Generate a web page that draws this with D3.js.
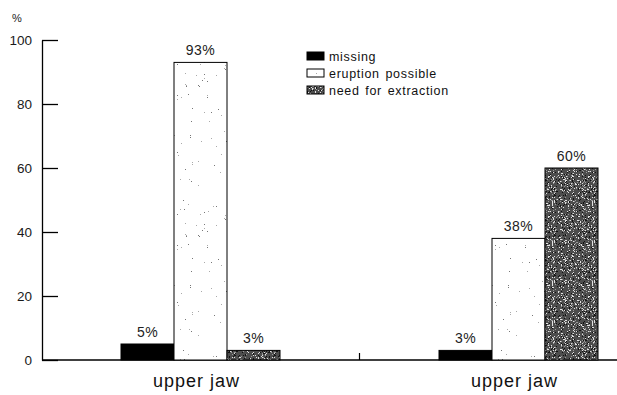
<!DOCTYPE html>
<html>
<head>
<meta charset="utf-8">
<script src="https://cdn.jsdelivr.net/npm/d3@7"></script>
<style>
  html, body { margin: 0; padding: 0; background: #fff; }
  svg { display: block; font-family: "Liberation Sans", Arial, sans-serif; }
</style>
</head>
<body>
<svg id="chart" width="617" height="395"></svg>
<script>
// ---- data ----
const groups = ["upper jaw (1)", "upper jaw (2)"];
const groupLabels = ["upper jaw", "upper jaw"];
const seriesNames = ["missing", "eruption possible", "need for extraction"];
const missing = [5, 3];
const eruptionPossible = [93, 38];
const needForExtraction = [3, 60];
const yTicks = [0, 20, 40, 60, 80, 100];
const seriesValues = [missing, eruptionPossible, needForExtraction];

const svg = d3.select("#chart");
const defs = svg.append("defs");

// deterministic hash for texture dots
function hash(i, s) {
  let x = Math.sin(i * 12.9898 + s * 78.233) * 43758.5453;
  return x - Math.floor(x);
}
// sparse stipple (eruption possible)
const p1 = defs.append("pattern").attr("id", "stipple").attr("patternUnits", "userSpaceOnUse")
  .attr("width", 53).attr("height", 150).attr("x", 0).attr("y", 0);
p1.append("rect").attr("width", 53).attr("height", 150).attr("fill", "#fff");
for (let i = 0; i < 60; i++) {
  p1.append("rect").attr("x", Math.floor(hash(i, 1) * 53)).attr("y", Math.floor(hash(i, 2) * 150))
    .attr("width", 1).attr("height", 1).attr("fill", hash(i, 3) > 0.5 ? "#777" : "#aaa");
}
// dense dark stipple (need for extraction)
const p2 = defs.append("pattern").attr("id", "dense").attr("patternUnits", "userSpaceOnUse")
  .attr("width", 40).attr("height", 40);
p2.append("rect").attr("width", 40).attr("height", 40).attr("fill", "#4d4d4d");
for (let i = 0; i < 480; i++) {
  const h = hash(i, 5);
  p2.append("rect").attr("x", Math.floor(hash(i, 6) * 40)).attr("y", Math.floor(hash(i, 7) * 40))
    .attr("width", 1).attr("height", 1)
    .attr("fill", h > 0.6 ? "#e0e0e0" : (h > 0.25 ? "#111" : "#999"));
}
const fills = ["#000", "url(#stipple)", "url(#dense)"];

// ---- scales ----
const x0 = d3.scaleBand().domain(groups).range([41.5, 677.5]);
const x1 = d3.scaleBand().domain(seriesNames).range([-79.5, 79.5]);
const y = d3.scaleLinear().domain([0, 100]).range([360, 40]);

// ---- axes ----
const yAxis = d3.axisLeft(y).tickValues(yTicks).tickSizeInner(-16).tickSizeOuter(0).tickPadding(10);
const gy = svg.append("g").attr("transform", "translate(42,0)").call(yAxis);
gy.select(".domain").attr("stroke", "#000").attr("stroke-width", 1.3);
gy.selectAll(".tick line").attr("stroke", "#000").attr("stroke-width", 1.3);
gy.selectAll(".tick text").attr("font-size", 13.5).attr("fill", "#1a1a1a")
  .attr("font-family", "Liberation Sans, Arial, sans-serif");

svg.append("text").attr("x", 17).attr("y", 22).attr("text-anchor", "middle")
  .attr("font-size", 11).attr("fill", "#1a1a1a").text("%");

// x axis line
svg.append("line").attr("x1", 42).attr("x2", 617).attr("y1", y(0)).attr("y2", y(0))
  .attr("stroke", "#000").attr("stroke-width", 1.3);
// middle separator tick
const midX = x0(groups[0]) + x0.bandwidth();
svg.append("line").attr("x1", midX).attr("x2", midX)
  .attr("y1", y(0) - 7).attr("y2", y(0)).attr("stroke", "#000").attr("stroke-width", 1.2);

// ---- bars ----
groups.forEach((g, gi) => {
  const cx = x0(g) + x0.bandwidth() / 2;
  seriesNames.forEach((s, si) => {
    const v = seriesValues[si][gi];
    const bx = cx + x1(s);
    svg.append("rect").attr("x", bx).attr("y", y(v)).attr("width", x1.bandwidth())
      .attr("height", y(0) - y(v)).attr("fill", fills[si])
      .attr("stroke", "#000").attr("stroke-width", 1);
    svg.append("text").attr("x", bx + x1.bandwidth() / 2).attr("y", y(v) - 7)
      .attr("text-anchor", "middle").attr("font-size", 14).attr("letter-spacing", 0.5)
      .attr("fill", "#222").text(v + "%");
  });
  svg.append("text").attr("x", cx - 4).attr("y", 387).attr("text-anchor", "middle")
    .attr("font-size", 18).attr("letter-spacing", 1).attr("fill", "#111").text(groupLabels[gi]);
});

// ---- legend ----
const legend = svg.append("g").attr("transform", "translate(307,52)");
seriesNames.forEach((s, i) => {
  const row = legend.append("g").attr("transform", `translate(0,${i * 17})`);
  row.append("rect").attr("width", 17).attr("height", 8).attr("fill", fills[i])
    .attr("stroke", "#000").attr("stroke-width", 1);
  row.append("text").attr("x", 22).attr("y", 8.5).attr("font-size", 12.5)
    .attr("letter-spacing", 0.7).attr("word-spacing", 1.5).attr("fill", "#111").text(s);
});
</script>
</body>
</html>
